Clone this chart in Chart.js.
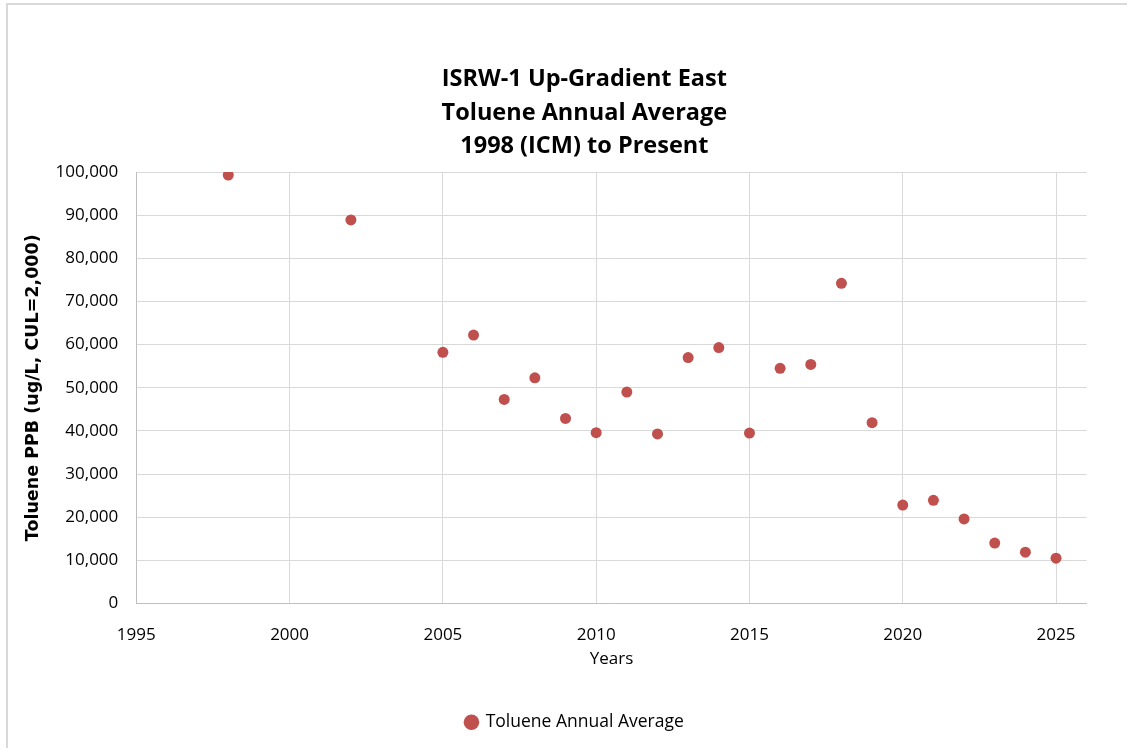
<!DOCTYPE html>
<html>
<head>
<meta charset="utf-8">
<script src="https://cdn.jsdelivr.net/npm/chart.js@4.4.1/dist/chart.umd.min.js"></script>
<style>
  html, body { margin: 0; padding: 0; background: #ffffff; overflow: hidden; }
  #frame {
    position: absolute; left: 6px; top: 3px; width: 1200px; height: 800px;
    border: 2px solid #d9d9d9; box-sizing: border-box;
  }
  #wrap { position: absolute; left: 0; top: 0; width: 1127px; height: 748px; }
</style>
</head>
<body>
<div id="frame"></div>
<div id="wrap"><canvas id="chart" width="1127" height="748"></canvas></div>
<script>
// Sampling years and toluene annual averages (ug/L)
const years = [1998, 2002, 2005, 2006, 2007, 2008, 2009, 2010, 2011, 2012, 2013,
               2014, 2015, 2016, 2017, 2018, 2019, 2020, 2021, 2022, 2023, 2024, 2025];
const tolueneAvg = [99300, 88900, 58200, 62200, 47300, 52300, 42900, 39600, 49000, 39300, 57000,
                    59300, 39500, 54500, 55400, 74200, 41900, 22800, 23900, 19600, 14000, 11900, 10500];

const titleLines = ['ISRW-1 Up-Gradient East', 'Toluene Annual Average', '1998 (ICM) to Present'];
const seriesName = 'Toluene Annual Average';
const xAxisTitle = 'Years';
const yAxisTitle = 'Toluene PPB (ug/L, CUL=2,000)';

const points = years.map((y, i) => ({ x: y, y: tolueneAvg[i] }));

const tickFont = { family: '"Open Sans", sans-serif', size: 17 };
const gridColor = '#d9d9d9';

// Plot-area geometry in canvas pixels
const PAD_LEFT = 10;
const PLOT_LEFT = 136.3;
const Y_TITLE_CENTER = 33;
// Horizontal offsets of the title and legend blocks from the canvas centre line
const TITLE_SHIFT = 36;
const LEGEND_SHIFT = 26.5;

const shiftBlocks = {
  id: 'shiftBlocks',
  afterLayout(chart) {
    const move = (box, dx) => { if (box) { box.left += dx; box.right += dx; } };
    move(chart.titleBlock, TITLE_SHIFT);
    move(chart.legend, LEGEND_SHIFT);
  }
};

new Chart(document.getElementById('chart'), {
  type: 'scatter',
  data: {
    datasets: [{
      label: seriesName,
      data: points,
      backgroundColor: '#c0504d',
      borderColor: '#c0504d',
      borderWidth: 0,
      pointRadius: 5.5,
      pointHoverRadius: 5.5
    }]
  },
  plugins: [shiftBlocks],
  options: {
    responsive: false,
    animation: false,
    layout: { padding: { left: PAD_LEFT, right: 40.3, top: 0, bottom: 7 } },
    plugins: {
      title: {
        display: true,
        text: titleLines,
        color: '#000000',
        font: { family: '"Open Sans", sans-serif', size: 23.5, weight: 'bold', lineHeight: 33.5 / 23.5 },
        padding: { top: 63, bottom: 8.5 }
      },
      legend: {
        display: true,
        position: 'bottom',
        labels: {
          usePointStyle: true,
          pointStyle: 'circle',
          boxWidth: 11,
          boxHeight: 11,
          color: '#000000',
          font: { family: '"Open Sans", sans-serif', size: 17.5 },
          padding: 10
        }
      },
      tooltip: { enabled: false }
    },
    scales: {
      x: {
        type: 'linear',
        min: 1995,
        max: 2026,
        afterFit: (s) => { s.height = 100; },
        ticks: {
          stepSize: 5,
          includeBounds: false,
          autoSkip: false,
          maxRotation: 0,
          color: '#000000',
          font: tickFont,
          padding: 21,
          callback: (v) => String(v)
        },
        grid: { color: gridColor, lineWidth: 1, drawTicks: false },
        border: { display: true, color: '#bfbfbf', width: 1 },
        title: {
          display: true,
          text: xAxisTitle,
          color: '#000000',
          font: { family: '"Open Sans", sans-serif', size: 17 },
          padding: { top: 0, bottom: 34 }
        }
      },
      y: {
        min: 0,
        max: 100000,
        afterFit: (s) => { s.width = PLOT_LEFT - PAD_LEFT; },
        ticks: {
          stepSize: 10000,
          color: '#000000',
          font: tickFont,
          padding: 18,
          callback: (v) => Number(v).toLocaleString('en-US')
        },
        grid: { color: gridColor, lineWidth: 1, drawTicks: false },
        border: { display: true, color: '#bfbfbf', width: 1 },
        title: {
          display: true,
          text: yAxisTitle,
          color: '#000000',
          font: { family: '"DejaVu Sans", sans-serif', size: 17.5, weight: 'bold' },
          padding: { top: Y_TITLE_CENTER - PAD_LEFT - 17.5 * 1.2 / 2, bottom: 0 }
        }
      }
    }
  }
});
</script>
</body>
</html>
